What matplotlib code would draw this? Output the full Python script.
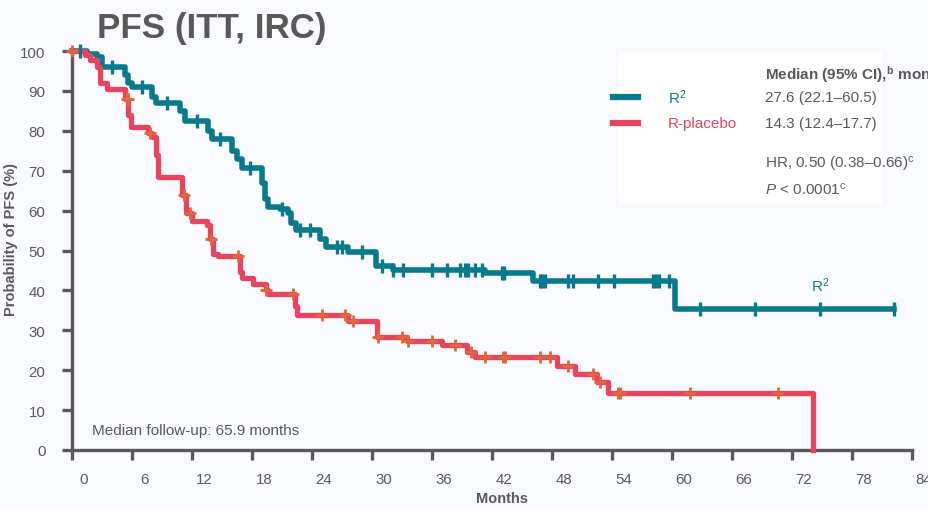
import numpy as np
import matplotlib.pyplot as plt
from matplotlib.transforms import ScaledTranslation

plt.rcParams['font.family'] = ['Liberation Sans', 'DejaVu Sans']
plt.rcParams['mathtext.fontset'] = 'custom'
plt.rcParams['mathtext.rm'] = 'Liberation Sans'
plt.rcParams['mathtext.it'] = 'Liberation Sans:italic'
plt.rcParams['mathtext.bf'] = 'Liberation Sans:bold'

# R2 arm: step times (months) and survival (%) after each step
r2_t = [0, 1.5, 2.5, 3.0, 5.3, 5.6, 6.0, 8.0, 8.4, 10.8, 11.3, 13.6, 14.0, 16.0,
        16.5, 17.0, 19.0, 19.3, 19.6, 20.8, 21.6, 21.9, 22.4, 24.8, 25.4, 27.6,
        30.4, 32.1, 41.3, 46.1, 60.3, 82.2]
r2_s = [100, 99.2, 98.5, 96, 94, 92, 91, 88.5, 87, 85, 82.4, 80, 78, 75,
        73, 70.7, 67, 63, 61, 60.5, 59.5, 57, 55.2, 53, 51, 49.6,
        46.2, 45.2, 44.3, 42.4, 35.3, 35.3]
r2_cens = [0.8, 4.0, 7.0, 9.5, 12.5, 14.8, 17.8, 21.0, 22.8, 23.8, 26.5, 27.0,
           29.0, 31.0, 32.1, 33.1, 36.0, 37.5, 38.8, 39.3, 39.6, 40.3, 41.0,
           43.0, 43.2, 46.8, 47.0, 47.3, 49.6, 50.1, 52.6, 54.2, 58.1, 58.4,
           58.7, 59.7, 62.8, 68.3, 74.8, 82.2]

# R-placebo arm
rp_t = [0, 1.3, 1.8, 2.5, 2.8, 3.5, 5.3, 5.6, 5.9, 7.6, 8.0, 8.4, 8.6, 11.0,
        11.4, 12.0, 13.5, 13.8, 14.1, 14.6, 16.8, 17.0, 18.1, 19.4, 19.6, 22.3,
        22.5, 27.6, 30.5, 33.5, 37.0, 39.5, 40.3, 48.5, 50.3, 52.5, 53.6, 74.1]
rp_s = [100, 99, 97.8, 96, 92, 90.5, 88, 84, 81, 79.5, 78.5, 74, 68.5, 64,
        59.5, 57.5, 56.5, 53, 49.2, 48.5, 44.5, 43.2, 41.6, 40, 39, 36,
        33.8, 32.4, 28.2, 27.3, 26.3, 24.5, 23.3, 21, 19, 17, 14.3, 0]
rp_cens = [0.05, 5.5, 5.58, 7.8, 11.2, 11.8, 13.9, 16.6, 19.4, 22.1, 25.0, 27.3,
           28.1, 30.6, 33.0, 33.6, 36.0, 38.3, 39.9, 41.3, 43.1, 43.3, 46.8,
           47.8, 49.6, 52.1, 52.8, 54.6, 54.8, 61.8, 70.6]

x_ticks = list(range(0, 85, 6))
y_ticks = list(range(0, 101, 10))

TEAL = '#087a8b'
RED = '#e8445f'
ORANGE = '#e2653c'
GREY = '#595959'
BG = '#f9fafd'


def surv_at(times, t, s):
    idx = np.searchsorted(t, times, side='right') - 1
    return np.array(s)[idx]


fig = plt.figure(figsize=(9.29, 5.10), dpi=100, facecolor=BG)
ax = fig.add_axes([72 / 929, 1 - 451 / 510, 840 / 929, 399 / 510])
ax.set_facecolor(BG)

# legend box
fig.patches.append(plt.Rectangle((618 / 929, 1 - 205 / 510), 264 / 929, 152 / 510,
                                 transform=fig.transFigure, facecolor='white',
                                 edgecolor='none', zorder=0))

ax.step(r2_t, r2_s, where='post', color=TEAL, lw=4.0, clip_on=False, zorder=3)
ax.plot(r2_cens, surv_at(r2_cens, r2_t, r2_s), ls='none', marker='|', ms=10,
        mew=2.4, color=TEAL, clip_on=False, zorder=4)
ax.step(rp_t, rp_s, where='post', color=RED, lw=3.8, clip_on=False, zorder=3)
ax.plot(rp_cens, surv_at(rp_cens, rp_t, rp_s), ls='none', marker='+', ms=9,
        mew=2.0, color=ORANGE, clip_on=False, zorder=4)

ax.set_xlim(0, 84)
ax.set_ylim(0, 100)
ax.set_xticks(x_ticks)
ax.set_yticks(y_ticks)
for sp in ['top', 'right']:
    ax.spines[sp].set_visible(False)
for sp in ['left', 'bottom']:
    ax.spines[sp].set_color(GREY)
    ax.spines[sp].set_linewidth(2.4)
ax.tick_params(axis='both', colors=GREY, width=2.4, length=7, labelsize=10.8)
ax.tick_params(axis='y', pad=12)
ax.tick_params(axis='x', pad=9)
shift = ScaledTranslation(0.12, 0, fig.dpi_scale_trans)
for lab in ax.get_xticklabels():
    lab.set_transform(lab.get_transform() + shift)

ax.set_xlabel('Months', fontsize=10.5, fontweight='bold', color=GREY)
ax.xaxis.set_label_coords((502 - 72) / 840, -(492 - 451) / 399)
ax.set_ylabel('Probability of PFS (%)', fontsize=10.5, fontweight='bold',
              color=GREY)
ax.yaxis.set_label_coords(-(72 - 18) / 840, 0.53)

fig.text(97 / 929, 1 - 38 / 510, 'PFS (ITT, IRC)', fontsize=25.2,
         fontweight='bold', color=GREY, va='baseline', ha='left')

ax.text(2, 5, 'Median follow-up: 65.9 months', fontsize=11, color=GREY,
        va='center', ha='left')
ax.text(74.8, 41.5, r'R$^2$', fontsize=11, color=TEAL, ha='center', va='center')


# legend contents
def fx(px):
    return px / 929


def fy(py):
    return 1 - py / 510


fig.add_artist(plt.Line2D([fx(613), fx(638)], [fy(98), fy(98)], color=TEAL,
                          lw=4.5, transform=fig.transFigure))
fig.add_artist(plt.Line2D([fx(613), fx(638)], [fy(124), fy(124)], color=RED,
                          lw=4.5, transform=fig.transFigure))
fig.text(fx(668), fy(98), r'R$^2$', fontsize=11, color=TEAL, va='center')
fig.text(fx(668), fy(124), 'R-placebo', fontsize=11, color=RED, va='center')
fig.text(fx(765), fy(75), r'Median (95% CI),$^\mathbf{b}$ months', fontsize=11,
         fontweight='bold', color=GREY, va='center')
fig.text(fx(765), fy(98), '27.6 (22.1\u201360.5)', fontsize=11, color=GREY,
         va='center')
fig.text(fx(765), fy(124), '14.3 (12.4\u201317.7)', fontsize=11, color=GREY,
         va='center')
fig.text(fx(765), fy(165), r'HR, 0.50 (0.38–0.66)$^\mathrm{c}$', fontsize=11,
         color=GREY, va='center')
fig.text(fx(765), fy(190), r'$P$ < 0.0001$^\mathrm{c}$', fontsize=11,
         color=GREY, va='center')

fig.savefig('out.png', dpi=100, facecolor=BG)
